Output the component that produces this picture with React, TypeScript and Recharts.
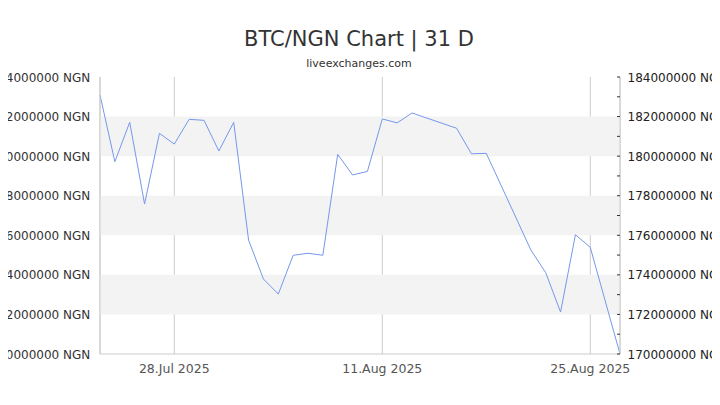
import { CartesianGrid, Line, LineChart, ReferenceArea, XAxis, YAxis } from "recharts";

// day index, 0 = 23.Jul 2025
const days = [0, 1, 2, 3, 4, 5, 6, 7, 8, 9, 10, 11, 12, 13, 14, 15, 16, 17, 18, 19, 20, 21, 24, 25, 26, 29, 30, 31, 32, 33, 35];
const prices = [
  183090000, 179720000, 181710000, 177580000, 181150000, 180610000, 181860000, 181810000,
  180260000, 181710000, 175760000, 173790000, 173030000, 174990000, 175090000, 174990000,
  180090000, 179050000, 179230000, 181880000, 181680000, 182180000, 181410000, 180120000,
  180140000, 175260000, 174110000, 172120000, 176030000, 175390000, 170000000
];

const xTicks = [5, 19, 33];
const xTickLabels = ["28.Jul 2025", "11.Aug 2025", "25.Aug 2025"];
const leftTicks = [170000000, 172000000, 174000000, 176000000, 178000000, 180000000, 182000000, 184000000];
const rightTicks = [
  170000000, 171000000, 172000000, 173000000, 174000000, 175000000, 176000000, 177000000,
  178000000, 179000000, 180000000, 181000000, 182000000, 183000000, 184000000
];
const bandLows = [180000000, 176000000, 172000000];
const bandHighs = [182000000, 178000000, 174000000];

const data = days.map((day, i) => ({ day, price: prices[i] }));

const FONT = "'DejaVu Sans', sans-serif";

function LeftTick(props: any) {
  const { x, y, payload } = props;
  return (
    <text x={x} y={y} dy={4.5} textAnchor="end" fontSize={12} fill="#333" fontFamily={FONT}>
      {`${payload.value} NGN`}
    </text>
  );
}

function RightTick(props: any) {
  const { x, y, payload } = props;
  const axisX = x - 7.5;
  const major = payload.value % 2000000 === 0;
  return (
    <g>
      <line x1={axisX - 3} x2={axisX} y1={y} y2={y} stroke="#333" />
      {major && (
        <text x={x} y={y} dy={4.5} fontSize={12} fill="#222" fontFamily={FONT}>
          {`${payload.value} NGN`}
        </text>
      )}
    </g>
  );
}

export default function App() {
  return (
    <div style={{ position: "relative", width: 720, height: 405, margin: -8, background: "#fff" }}>
      <LineChart width={720} height={405} data={data} margin={{ top: 77, right: 0, bottom: 21, left: 0 }}>
        <CartesianGrid horizontal={false} stroke="#ccc" yAxisId="left" />
        {bandLows.map((lo, i) => (
          <ReferenceArea key={lo} yAxisId="left" y1={lo} y2={bandHighs[i]} fill="#f3f3f3" fillOpacity={1} stroke="none" />
        ))}
        <XAxis
          dataKey="day"
          type="number"
          domain={[0, 35]}
          ticks={xTicks}
          tickFormatter={(v) => xTickLabels[xTicks.indexOf(v)]}
          tickLine={false}
          tickSize={0}
          tickMargin={10}
          axisLine={{ stroke: "#ccc" }}
          tick={{ fontSize: 12.5, fill: "#555", fontFamily: FONT }}
          height={30}
        />
        <YAxis
          yAxisId="left"
          domain={[170000000, 184000000]}
          ticks={leftTicks}
          width={100}
          tickLine={false}
          tickSize={0}
          tickMargin={9.7}
          axisLine={{ stroke: "#ccc" }}
          tick={<LeftTick />}
          interval={0}
        />
        <YAxis
          yAxisId="right"
          orientation="right"
          domain={[170000000, 184000000]}
          ticks={rightTicks}
          width={100}
          tickLine={false}
          tickSize={0}
          tickMargin={7.5}
          axisLine={{ stroke: "#ccc" }}
          tick={<RightTick />}
          interval={0}
        />
        <Line
          yAxisId="right"
          dataKey="price"
          stroke="none"
          dot={false}
          activeDot={false}
          isAnimationActive={false}
          legendType="none"
        />
        <Line
          yAxisId="left"
          dataKey="price"
          stroke="#7597ec"
          strokeWidth={1}
          dot={false}
          activeDot={false}
          isAnimationActive={false}
        />
      </LineChart>
      <svg width={720} height={80} style={{ position: "absolute", left: 0, top: 0, pointerEvents: "none" }}>
        <text x={359} y={46} textAnchor="middle" fontSize={21} fill="#333" fontFamily={FONT}>
          BTC/NGN Chart | 31 D
        </text>
        <text x={359} y={67} textAnchor="middle" fontSize={11} fill="#333" fontFamily={FONT}>
          liveexchanges.com
        </text>
      </svg>
    </div>
  );
}
